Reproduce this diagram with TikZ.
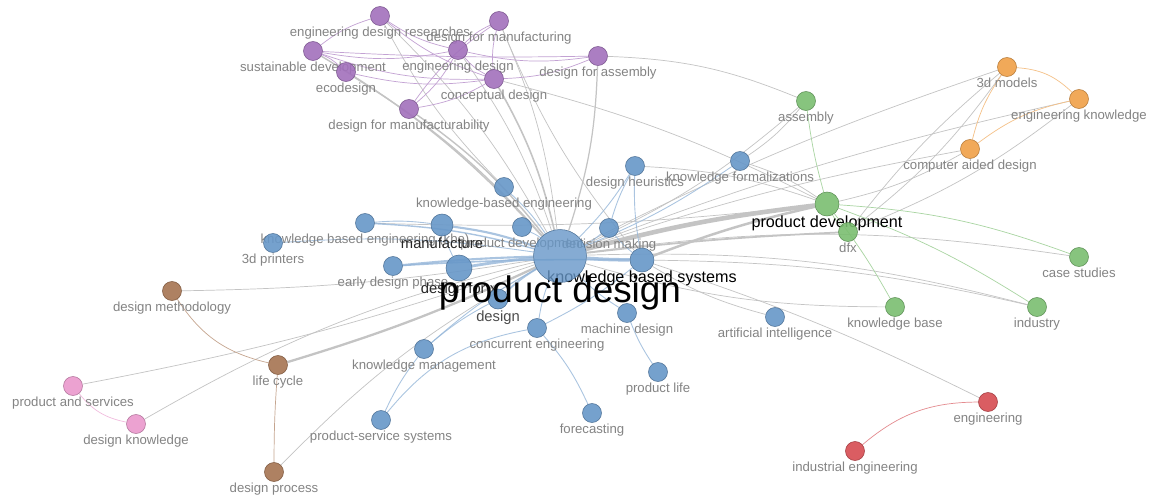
\documentclass[tikz,border=0pt]{standalone}
\usepackage{fontspec}
\setmainfont{Liberation Sans}
\usetikzlibrary{backgrounds}

\definecolor{cblue}{RGB}{103,151,200}
\definecolor{cpurple}{RGB}{162,112,188}
\definecolor{cgreen}{RGB}{122,190,112}
\definecolor{corange}{RGB}{240,160,72}
\definecolor{cred}{RGB}{214,76,82}
\definecolor{cbrown}{RGB}{166,116,82}
\definecolor{cpink}{RGB}{234,152,204}
\definecolor{lblgray}{RGB}{132,132,132}
\definecolor{linkgray}{RGB}{196,196,196}

\tikzset{
  term/.style={circle, fill=#1, draw=#1!75!black, line width=0.3pt,
    fill opacity=0.9, minimum size=0.38cm, inner sep=0pt,
    label distance=-1.2pt},
  lbl/.style={font=\fontsize{7.5}{8}\selectfont, text=lblgray, inner sep=0.5pt,
    text opacity=1},
  midlbl/.style={font=\fontsize{8.4}{9}\selectfont, text=black!85, inner sep=0.5pt,
    text opacity=1},
  toplbl/.style={font=\fontsize{9.2}{10}\selectfont, text=black, inner sep=0.5pt,
    text opacity=1},
  link/.style={draw=linkgray, line width=0.4pt, bend right=8},
  blink/.style={draw=cblue!70, line width=0.5pt, bend right=6, draw opacity=0.8},
  clink/.style={draw=#1!65, line width=0.4pt, bend right=10}
}

\begin{document}
\begin{tikzpicture}[x=0.02cm, y=-0.02cm]
  \useasboundingbox (0,0) rectangle (1150,495);

  % purple cluster
  \node[term=cpurple, label={[lbl]below:engineering design researches}]
    (edres) at (380, 16) {};
  \node[term=cpurple, label={[lbl]below:design for manufacturing}]
    (dfmfg) at (499, 21) {};
  \node[term=cpurple, label={[lbl]below:sustainable development}]
    (susdev) at (313, 51) {};
  \node[term=cpurple, label={[lbl]below:engineering design}]
    (engdes) at (458, 50) {};
  \node[term=cpurple, label={[lbl]below:ecodesign}]
    (ecodes) at (346, 72) {};
  \node[term=cpurple, label={[lbl]below:conceptual design}]
    (concdes) at (494, 79) {};
  \node[term=cpurple, label={[lbl]below:design for assembly}]
    (dfasm) at (598, 56) {};
  \node[term=cpurple, label={[lbl]below:design for manufacturability}]
    (dfmab) at (409, 109) {};

  % green cluster
  \node[term=cgreen, label={[lbl]below:assembly}]
    (asm) at (806, 101) {};
  \node[term=cgreen, minimum size=0.48cm, label={[toplbl, yshift=1.2pt]below:product development}]
    (pdev) at (827, 204) {};
  \node[term=cgreen, label={[lbl]below:dfx}]
    (dfx) at (848, 232) {};
  \node[term=cgreen, label={[lbl]below:case studies}]
    (cases) at (1079, 257) {};
  \node[term=cgreen, label={[lbl]below:knowledge base}]
    (kbase) at (895, 307) {};
  \node[term=cgreen, label={[lbl]below:industry}]
    (industry) at (1037, 307) {};

  % orange cluster
  \node[term=corange, label={[lbl]below:3d models}]
    (models3d) at (1007, 67) {};
  \node[term=corange, label={[lbl]below:engineering knowledge}]
    (engknow) at (1079, 99) {};
  \node[term=corange, label={[lbl]below:computer aided design}]
    (cad) at (970, 149) {};

  % red, pink and brown clusters
  \node[term=cred, label={[lbl]below:engineering}]
    (eng) at (988, 402) {};
  \node[term=cred, label={[lbl]below:industrial engineering}]
    (indeng) at (855, 451) {};

  \node[term=cpink, label={[lbl]below:product and services}]
    (prodserv) at (73, 386) {};
  \node[term=cpink, label={[lbl]below:design knowledge}]
    (desknow) at (136, 424) {};

  \node[term=cbrown, label={[lbl]below:design methodology}]
    (desmeth) at (172, 291) {};
  \node[term=cbrown, label={[lbl]below:life cycle}]
    (lifecyc) at (278, 365) {};
  \node[term=cbrown, label={[lbl]below:design process}]
    (desproc) at (274, 472) {};

  % blue cluster
  \node[term=cblue, label={[lbl]below:knowledge-based engineering}]
    (kbeng) at (504, 187) {};
  \node[term=cblue, label={[lbl]below:design heuristics}]
    (heur) at (635, 166) {};
  \node[term=cblue, label={[lbl]below:knowledge formalizations}]
    (kform) at (740, 161) {};
  \node[term=cblue, label={[lbl]below:knowledge based engineering (kbe)}]
    (kbe) at (365, 223) {};
  \node[term=cblue, label={[lbl]below:3d printers}]
    (print3d) at (273, 243) {};
  \node[term=cblue, label={[lbl]below:product development}]
    (pdp) at (522, 227) {};
  \node[term=cblue, label={[lbl]below:decision making}]
    (decm) at (609, 228) {};
  \node[term=cblue, label={[lbl]below:early design phase}]
    (earlyd) at (393, 266) {};
  \node[term=cblue, minimum size=0.44cm, label={[midlbl]below:manufacture}]
    (man) at (442, 225) {};
  \node[term=cblue, minimum size=0.52cm, label={[midlbl]below:design for x}]
    (dfxb) at (459, 268) {};
  \node[term=cblue, minimum size=0.4cm, label={[midlbl, text=black!70]below:design}]
    (des) at (498, 299) {};
  \node[term=cblue, label={[lbl]below:concurrent engineering}]
    (conc) at (537, 328) {};
  \node[term=cblue, label={[lbl]below:machine design}]
    (mdes) at (627, 313) {};
  \node[term=cblue, label={[lbl]below:artificial intelligence}]
    (ai) at (775, 317) {};
  \node[term=cblue, label={[lbl]below:product life}]
    (plife) at (658, 372) {};
  \node[term=cblue, label={[lbl]below:knowledge management}]
    (kman) at (424, 349) {};
  \node[term=cblue, label={[lbl]below:product-service systems}]
    (pss) at (381, 420) {};
  \node[term=cblue, label={[lbl]below:forecasting}]
    (fcast) at (592, 413) {};
  \node[term=cblue, minimum size=0.48cm, label={[toplbl, yshift=1.5pt]below:knowledge based systems}]
    (kbs) at (642, 260) {};

  \node[term=cblue, minimum size=1.06cm, fill opacity=0.8,
    label={[font=\fontsize{21}{22}\selectfont, text=black, inner sep=0pt,
      text opacity=1, yshift=4pt]below:product design}]
    (pd) at (560, 256) {};

  \begin{scope}[on background layer]
    \fill[white] (0,0) rectangle (1150,495);

    % links to the purple terms
    \draw
      (pd) edge[link] (edres)
      (pd) edge[link, line width=0.8pt] (susdev)
      (pd) edge[link, line width=0.7pt] (ecodes)
      (pd) edge[link] (engdes)
      (pd) edge[link] (dfmfg)
      (pd) edge[link, line width=0.9pt] (concdes)
      (pd) edge[link, line width=0.7pt] (dfasm)
      (pd) edge[link, line width=0.8pt] (dfmab)
      (dfasm) edge[link, bend left=10] (asm)
      (concdes) edge[link, bend left=6] (pdev)
      (edres) edge[link] (kbeng)
      (dfmfg) edge[link] (kbs);

    \draw
      (susdev) edge[clink=cpurple] (engdes)
      (susdev) edge[clink=cpurple, bend right=2] (dfasm)
      (susdev) edge[clink=cpurple] (concdes)
      (edres) edge[clink=cpurple] (susdev)
      (edres) edge[clink=cpurple] (engdes)
      (edres) edge[clink=cpurple] (concdes)
      (ecodes) edge[clink=cpurple] (concdes)
      (ecodes) edge[clink=cpurple] (susdev)
      (engdes) edge[clink=cpurple] (concdes)
      (engdes) edge[clink=cpurple] (dfasm)
      (dfmfg) edge[clink=cpurple] (dfmab)
      (dfmfg) edge[clink=cpurple] (concdes)
      (dfmfg) edge[clink=cpurple] (engdes)
      (dfmab) edge[clink=cpurple] (concdes)
      (dfmab) edge[clink=cpurple] (engdes)
      (concdes) edge[clink=cpurple] (dfasm);

    % links to the other clusters
    \draw
      (pd) edge[link, line width=2.6pt, bend left=4] (pdev)
      (pd) edge[link, line width=1pt, bend left=2] (dfx)
      (pd) edge[link] (asm)
      (pd) edge[link, bend left=8] (cases)
      (pd) edge[link, bend left=8] (industry)
      (pd) edge[link] (kbase)
      (pd) edge[link, bend left=4] (cad)
      (pd) edge[link, bend left=4] (models3d)
      (pd) edge[link, bend left=4] (engknow)
      (pd) edge[link, line width=1.3pt, bend left=4] (lifecyc)
      (pd) edge[link, bend left=4] (desmeth)
      (pd) edge[link] (desproc)
      (pd) edge[link, bend left=4] (prodserv)
      (pd) edge[link] (desknow)
      (kbs) edge[link, line width=1.4pt, bend left=4] (pdev)
      (kbs) edge[link] (ai)
      (kbs) edge[link, bend left=4] (eng)
      (kbs) edge[link, bend left=6] (industry)
      (pdev) edge[link] (heur)
      (pdev) edge[link] (kform)
      (pdev) edge[link] (cad)
      (pdev) edge[link, bend left=4] (kbe)
      (kform) edge[link] (asm)
      (dfx) edge[link] (models3d)
      (dfx) edge[link, bend left=6] (models3d)
      (dfx) edge[link] (engknow);

    \draw
      (pdev) edge[clink=cgreen, bend left=4] (asm)
      (pdev) edge[clink=cgreen] (dfx)
      (pdev) edge[clink=cgreen, bend left=4] (kbase)
      (pdev) edge[clink=cgreen, bend left=6] (industry)
      (pdev) edge[clink=cgreen, bend left=8] (cases)
      (models3d) edge[clink=corange, bend left=20] (engknow)
      (models3d) edge[clink=corange] (cad)
      (cad) edge[clink=corange, bend left=12] (engknow)
      (eng) edge[clink=cred, bend right=20] (indeng)
      (desmeth) edge[clink=cbrown, bend right=22] (lifecyc)
      (lifecyc) edge[clink=cbrown, bend right=2] (desproc)
      (prodserv) edge[clink=cpink, bend right=20] (desknow);

    % links inside the blue cluster
    \draw
      (pd) edge[blink, line width=2pt, bend right=2] (kbs)
      (pd) edge[blink, line width=1.2pt] (man)
      (pd) edge[blink, line width=1.6pt, bend right=2] (dfxb)
      (pd) edge[blink, line width=0.8pt] (kbe)
      (pd) edge[blink, line width=1.2pt, bend right=2] (earlyd)
      (pd) edge[blink] (print3d)
      (pd) edge[blink] (kbeng)
      (pd) edge[blink] (pdp)
      (pd) edge[blink] (decm)
      (pd) edge[blink] (heur)
      (pd) edge[blink] (kform)
      (pd) edge[blink, line width=1pt] (des)
      (pd) edge[blink] (conc)
      (pd) edge[blink] (mdes)
      (pd) edge[blink] (kman)
      (kman) edge[blink] (pss)
      (conc) edge[blink, bend right=20] (pss)
      (conc) edge[blink, bend left=8] (fcast)
      (mdes) edge[blink] (plife)
      (heur) edge[blink] (kbs)
      (heur) edge[blink] (decm)
      (decm) edge[blink] (kbs)
      (man) edge[blink] (kbe)
      (man) edge[blink] (dfxb)
      (earlyd) edge[blink, line width=0.9pt, bend left=2] (kbs)
      (des) edge[blink] (kman)
      (conc) edge[blink] (kbs);
  \end{scope}
\end{tikzpicture}
\end{document}
